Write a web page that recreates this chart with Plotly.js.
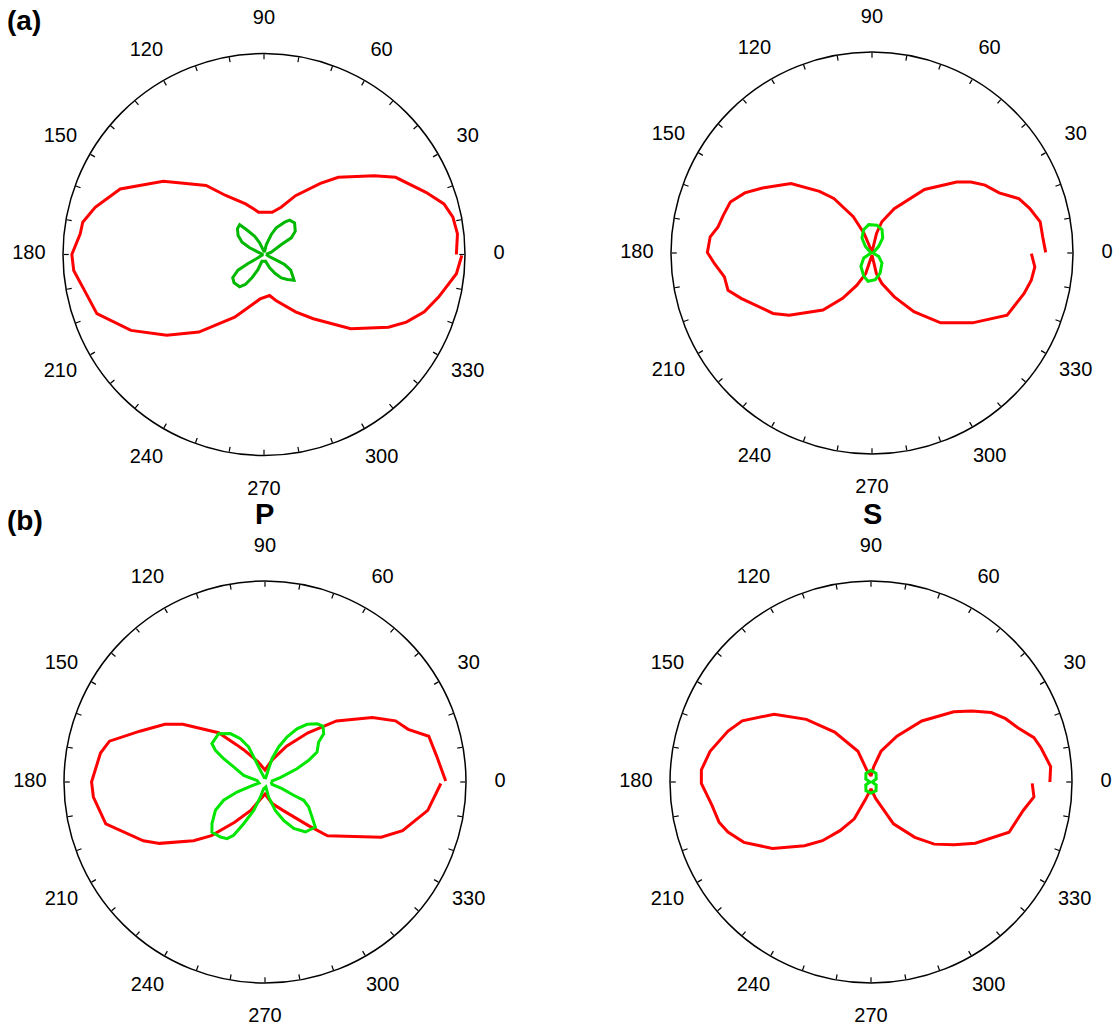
<!DOCTYPE html>
<html>
<head>
<meta charset="utf-8">
<script src="https://cdn.plot.ly/plotly-3.0.1.min.js"></script>
<style>html,body{margin:0;padding:0;background:#fff;}#chart{width:1118px;height:1030px;}</style>
</head>
<body>
<div id="chart"></div>
<script>
// ---------- data (angle in degrees, radius relative to the outer circle = 1) ----------
const ANGLE_LABEL_THETA = [0, 30, 60, 90, 120, 150, 180, 210, 240, 270, 300, 330];
const ANGLE_LABELS = ['0', '30', '60', '90', '120', '150', '180', '210', '240', '270', '300', '330'];
const MINOR_TICKS = [0,10,20,30,40,50,60,70,80,90,100,110,120,130,140,150,160,170,180,190,200,210,220,230,240,250,260,270,280,290,300,310,320,330,340,350];
const MAJOR_TICKS = [0, 30, 60, 90, 120, 150, 180, 210, 240, 270, 300, 330];

// (a) P  — red
const A_P_RED_THETA = [0, 6.1, 11.2, 15.7, 21, 30.4, 35.6, 46.1, 51.6, 61.8, 70.1, 79, 90, 97.3, 103, 110, 123, 130, 144, 155.5, 164.4, 169.9, 173.6, 180, 184.8, 191.3, 199.5, 209.7, 219.7, 230, 244.9, 254, 265, 277.8, 284.5, 298.8, 307.5, 319.5, 329.7, 334.6, 340.3, 346.3, 354.3, 359.7];
const A_P_RED_R = [0.957, 0.968, 0.958, 0.930, 0.863, 0.759, 0.674, 0.533, 0.452, 0.332, 0.250, 0.214, 0.210, 0.212, 0.233, 0.268, 0.350, 0.448, 0.619, 0.786, 0.872, 0.916, 0.920, 0.956, 0.950, 0.911, 0.882, 0.762, 0.629, 0.504, 0.344, 0.272, 0.222, 0.206, 0.236, 0.326, 0.403, 0.568, 0.717, 0.784, 0.847, 0.894, 0.962, 0.984];
// (a) P  — green
const A_P_GREEN_THETA = [5, 18, 30, 31.4, 36.7, 46, 53.2, 57.4, 65.4, 70, 76.9, 80, 101, 110.6, 116.9, 125.3, 129.3, 136, 143.6, 150.8, 155, 158, 180, 209, 209.5, 211, 216.6, 223.4, 233, 238, 242.6, 248, 253, 283, 293, 300.5, 306.5, 313, 319.3, 322.4, 329.6, 334, 336, 340, 365];
const A_P_GREEN_R = [0.010, 0.038, 0.100, 0.159, 0.194, 0.219, 0.213, 0.191, 0.146, 0.106, 0.051, 0.012, 0.025, 0.062, 0.102, 0.152, 0.191, 0.184, 0.160, 0.125, 0.079, 0.032, 0.005, 0.034, 0.091, 0.151, 0.194, 0.205, 0.201, 0.176, 0.130, 0.081, 0.035, 0.034, 0.072, 0.110, 0.145, 0.170, 0.197, 0.182, 0.154, 0.114, 0.062, 0.025, 0.010];

// (a) S  — red
const A_S_RED_THETA = [0.2, 5.4, 10.5, 15.8, 20.3, 25.3, 31, 35.7, 40, 50.4, 63.4, 72.5, 77, 90, 112, 117.3, 125, 130.4, 139.4, 149.3, 154.7, 160.2, 165.7, 170.4, 174.3, 179.8, 183.8, 189.2, 194.5, 199.1, 211.4, 216.9, 229.3, 237.1, 244.9, 253, 270, 282, 288, 297, 305.5, 314.5, 325.2, 335.3, 345.1, 350.3, 355.1, 359.8];
const A_S_RED_R = [0.864, 0.853, 0.851, 0.815, 0.779, 0.700, 0.656, 0.606, 0.550, 0.410, 0.247, 0.163, 0.100, 0.005, 0.105, 0.203, 0.331, 0.403, 0.531, 0.634, 0.700, 0.749, 0.763, 0.777, 0.809, 0.819, 0.786, 0.744, 0.740, 0.689, 0.577, 0.515, 0.374, 0.269, 0.177, 0.107, 0.010, 0.104, 0.160, 0.245, 0.359, 0.487, 0.609, 0.740, 0.783, 0.804, 0.813, 0.793];
// (a) S  — green
const A_S_GREEN_THETA = [0, 45, 54.6, 66.7, 79.8, 96.7, 109.7, 123.7, 135, 180, 211, 230, 250.7, 262, 277, 292, 315, 333, 360];
const A_S_GREEN_R = [0.005, 0.047, 0.092, 0.126, 0.140, 0.142, 0.123, 0.090, 0.047, 0.005, 0.048, 0.086, 0.123, 0.142, 0.134, 0.108, 0.070, 0.037, 0.005];

// (b) P  — red
const B_P_RED_THETA = [0.3, 8.5, 15.6, 20.2, 25.1, 31, 40.5, 48.9, 59, 72, 90, 109.3, 123.6, 127.4, 133.3, 144.9, 150, 157.9, 165.3, 170, 180, 185, 194.7, 205.8, 210.2, 219.4, 225, 233, 243.3, 270, 288.6, 302.3, 314.8, 319.3, 334.6, 340.5, 350.1, 359.5];
const B_P_RED_R = [0.899, 0.864, 0.846, 0.759, 0.717, 0.623, 0.468, 0.325, 0.208, 0.116, 0.060, 0.108, 0.193, 0.234, 0.337, 0.500, 0.575, 0.672, 0.800, 0.831, 0.863, 0.857, 0.819, 0.672, 0.607, 0.460, 0.377, 0.251, 0.158, 0.060, 0.113, 0.167, 0.304, 0.410, 0.640, 0.726, 0.822, 0.875];
// (b) P  — green
const B_P_GREEN_THETA = [5, 16, 22.6, 26.4, 30, 36.7, 39.4, 43.8, 48.2, 53.9, 59, 64, 68.7, 73.2, 75, 80, 100, 111.6, 114.3, 115, 119.6, 125.6, 133.9, 144.1, 147.4, 150.6, 154.3, 162.7, 168.7, 190, 196.4, 199.7, 203.8, 209.7, 218.1, 223.3, 231, 236.2, 239.5, 242.9, 248.4, 253, 258, 280, 283.5, 289.9, 295.9, 301.7, 309, 318.1, 323.4, 330.3, 334.7, 335.2, 338.8, 341, 365];
const B_P_GREEN_R = [0.030, 0.079, 0.172, 0.243, 0.299, 0.333, 0.378, 0.400, 0.389, 0.355, 0.309, 0.249, 0.187, 0.121, 0.061, 0.021, 0.022, 0.062, 0.136, 0.192, 0.248, 0.296, 0.333, 0.326, 0.293, 0.236, 0.173, 0.111, 0.041, 0.030, 0.076, 0.148, 0.225, 0.284, 0.335, 0.363, 0.352, 0.339, 0.308, 0.233, 0.152, 0.078, 0.035, 0.025, 0.077, 0.150, 0.212, 0.272, 0.320, 0.336, 0.291, 0.250, 0.213, 0.157, 0.091, 0.037, 0.030];

// (b) S  — red
const B_S_RED_THETA = [0, 4.9, 11.3, 15.2, 20.3, 25.2, 30, 35.2, 40.3, 50.2, 60.5, 71.9, 79.7, 90, 109.5, 113, 126.1, 135.9, 145, 154.6, 160.4, 169.2, 175.9, 180.5, 188.3, 194.8, 199.3, 205.4, 214, 223.8, 230.4, 237.5, 245.6, 251.8, 270, 285.7, 298.3, 308.4, 315.5, 322.9, 329.6, 340, 349.5, 354.8, 359.5];
const B_S_RED_R = [0.890, 0.897, 0.863, 0.840, 0.779, 0.740, 0.691, 0.613, 0.540, 0.395, 0.262, 0.161, 0.078, 0.030, 0.064, 0.166, 0.307, 0.448, 0.588, 0.709, 0.755, 0.815, 0.846, 0.844, 0.800, 0.782, 0.754, 0.700, 0.591, 0.458, 0.379, 0.287, 0.201, 0.096, 0.034, 0.085, 0.236, 0.351, 0.441, 0.517, 0.602, 0.731, 0.771, 0.814, 0.802];
// (b) S  — green
const B_S_GREEN_THETA = [0, 30, 60, 90, 120, 150, 180, 210, 240, 270, 300, 330, 360];
const B_S_GREEN_R = [0.005, 0.030, 0.050, 0.058, 0.050, 0.030, 0.005, 0.030, 0.050, 0.055, 0.050, 0.030, 0.005];

// ---------- styling / layout ----------
const FONT = 'Liberation Sans, Arial, Helvetica, sans-serif';
const RED = '#ff0000';
const GREEN_DARK = '#00b800';
const GREEN_BRIGHT = '#00e600';
const LABEL_R = 1.17;      // radius (in circle units) where the angle labels are centred
const LABEL_RANGE = 1.2;   // radial extent of the (invisible) label layer
const W = 1118, H = 1030, RAD = 201;

// centres of the four circles in pixels
const CENTRES = [[264, 254.5], [872, 253], [265, 782], [871, 782]];

function domainFor(c, rad) {
  return {
    x: [(c[0] - rad) / W, (c[0] + rad) / W],
    y: [(H - c[1] - rad) / H, (H - c[1] + rad) / H]
  };
}

const panels = [
  {red: [A_P_RED_THETA, A_P_RED_R], green: [A_P_GREEN_THETA, A_P_GREEN_R], gcol: GREEN_DARK},
  {red: [A_S_RED_THETA, A_S_RED_R], green: [A_S_GREEN_THETA, A_S_GREEN_R], gcol: GREEN_BRIGHT},
  {red: [B_P_RED_THETA, B_P_RED_R], green: [B_P_GREEN_THETA, B_P_GREEN_R], gcol: GREEN_BRIGHT},
  {red: [B_S_RED_THETA, B_S_RED_R], green: [B_S_GREEN_THETA, B_S_GREEN_R], gcol: GREEN_BRIGHT}
];

const traces = [];
const layout = {
  width: W, height: H,
  margin: {l: 0, r: 0, t: 0, b: 0},
  paper_bgcolor: '#ffffff',
  showlegend: false,
  font: {family: FONT, color: '#000000'},
  annotations: []
};

panels.forEach((p, i) => {
  const dataId = 'polar' + (i === 0 ? '' : (i + 1));
  const tickId = 'polar' + (i + 5);
  const labelId = 'polar' + (i + 9);
  const dom = domainFor(CENTRES[i], RAD);
  layout[dataId] = {
    domain: dom,
    bgcolor: 'rgba(0,0,0,0)',
    radialaxis: {visible: false, range: [0, 1]},
    angularaxis: {
      rotation: 0, direction: 'counterclockwise', showgrid: false,
      showline: true, linecolor: '#000000', linewidth: 1.5,
      ticks: 'inside', ticklen: 5, tickwidth: 1.2, tickcolor: '#000000',
      tickmode: 'array', tickvals: MINOR_TICKS, showticklabels: false
    }
  };
  layout[tickId] = {
    domain: dom,
    bgcolor: 'rgba(0,0,0,0)',
    radialaxis: {visible: false, range: [0, 1]},
    angularaxis: {
      rotation: 0, direction: 'counterclockwise', showgrid: false,
      showline: false, ticks: 'outside', ticklen: 4, tickwidth: 1.2, tickcolor: '#000000',
      tickmode: 'array', tickvals: MAJOR_TICKS, showticklabels: false
    }
  };
  layout[labelId] = {
    domain: domainFor(CENTRES[i], RAD * LABEL_RANGE),
    bgcolor: 'rgba(0,0,0,0)',
    radialaxis: {visible: false, range: [0, LABEL_RANGE]},
    angularaxis: {
      rotation: 0, direction: 'counterclockwise', showgrid: false,
      showline: false, ticks: '', showticklabels: false
    }
  };
  traces.push({
    type: 'scatterpolar', mode: 'lines', subplot: dataId,
    theta: p.red[0], r: p.red[1],
    line: {color: RED, width: 3}, hoverinfo: 'skip'
  });
  traces.push({
    type: 'scatterpolar', mode: 'lines', subplot: dataId,
    theta: p.green[0], r: p.green[1],
    line: {color: p.gcol, width: 3}, hoverinfo: 'skip'
  });
  traces.push({
    type: 'scatterpolar', mode: 'text', subplot: labelId, cliponaxis: false,
    theta: ANGLE_LABEL_THETA, r: ANGLE_LABEL_THETA.map(() => LABEL_R),
    text: ANGLE_LABELS, textposition: 'middle center',
    textfont: {family: FONT, size: 20, color: '#000000'}, hoverinfo: 'skip'
  });
});

layout.annotations = [
  {text: '<b>(a)</b>', xref: 'paper', yref: 'paper', x: 5 / W, y: 1 - 3 / H, xanchor: 'left', yanchor: 'top', showarrow: false, font: {family: FONT, size: 28, color: '#000'}},
  {text: '<b>(b)</b>', xref: 'paper', yref: 'paper', x: 5 / W, y: 1 - 503 / H, xanchor: 'left', yanchor: 'top', showarrow: false, font: {family: FONT, size: 28, color: '#000'}},
  {text: '<b>P</b>', xref: 'paper', yref: 'paper', x: 264.5 / W, y: 1 - 496 / H, xanchor: 'center', yanchor: 'top', showarrow: false, font: {family: FONT, size: 29, color: '#000'}},
  {text: '<b>S</b>', xref: 'paper', yref: 'paper', x: 872 / W, y: 1 - 496 / H, xanchor: 'center', yanchor: 'top', showarrow: false, font: {family: FONT, size: 29, color: '#000'}}
];

Plotly.newPlot('chart', traces, layout, {staticPlot: true, displayModeBar: false});
</script>
</body>
</html>
